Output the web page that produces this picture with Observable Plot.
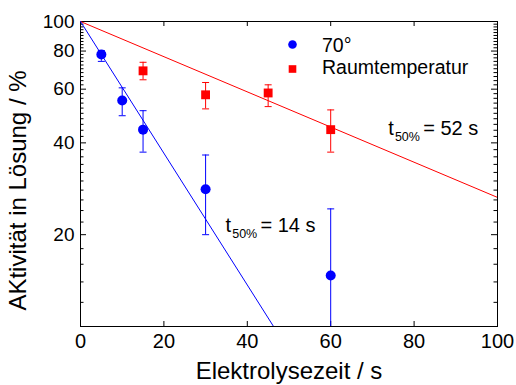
<!DOCTYPE html>
<html>
<head>
<meta charset="utf-8">
<script src="https://cdn.jsdelivr.net/npm/d3@7"></script>
<script src="https://cdn.jsdelivr.net/npm/@observablehq/plot@0.6"></script>
<style>
  html, body { margin: 0; padding: 0; background: #fff; }
</style>
</head>
<body>
<div id="chart"></div>
<script>
// 70° series
const x70  = [5, 10, 15, 30, 60];
const y70  = [77.9, 55.1, 44.2, 28.2, 14.7];
const hi70 = [80.3, 60.6, 51.0, 36.5, 24.3];
const lo70 = [74.0, 49.1, 37.3, 20.0, 5.0];

// Raumtemperatur series
const xRT  = [15, 30, 45, 60];
const yRT  = [68.9, 57.5, 58.3, 44.2];
const hiRT = [73.5, 63.1, 62.0, 51.3];
const loRT = [64.4, 51.7, 52.6, 37.3];

// fitted lines (end points)
const fit70X = [0, 46.3];
const fit70Y = [100, 10];
const fitRTX = [0, 100];
const fitRTY = [100, 26.5];

// ticks
const xTicks = [0, 20, 40, 60, 80, 100];
const yTicks = [20, 40, 60, 80, 100];
const yMinor = [12, 14, 16, 18, 22, 24, 26, 28, 30, 32, 34, 36, 38, 42, 44, 46, 48, 50, 52, 54, 56, 58,
                62, 64, 66, 68, 70, 72, 74, 76, 78, 82, 84, 86, 88, 90, 92, 94, 96, 98];

const seriesNames = ["70°", "Raumtemperatur"];
const colors = ["#0000ff", "#ff0000"];

const d70 = x70.map((x, i) => ({x, y: y70[i], lo: lo70[i], hi: hi70[i]}));
const dRT = xRT.map((x, i) => ({x, y: yRT[i], lo: loRT[i], hi: hiRT[i]}));
const fit70 = fit70X.map((x, i) => ({x, y: fit70Y[i]}));
const fitRT = fitRTX.map((x, i) => ({x, y: fitRTY[i]}));

const W = 516, H = 385, mL = 80, mR = 19, mT = 21, mB = 59;
const fw = W - mL - mR, fh = H - mT - mB;

const cap = { draw(ctx) { ctx.moveTo(-3.5, 0); ctx.lineTo(3.5, 0); } };
const font = "'Liberation Sans', Arial, Helvetica, sans-serif";

const chart = Plot.plot({
  width: W, height: H,
  marginLeft: mL, marginRight: mR, marginTop: mT, marginBottom: mB,
  style: { fontFamily: font, color: "black", background: "white" },
  x: { domain: [0, 100] },
  y: { type: "log", domain: [10, 100] },
  marks: [
    Plot.frame({ stroke: "black" }),
    // inward ticks
    Plot.tickY(yTicks, { insetRight: fw - 6, stroke: "black" }),
    Plot.tickY(yTicks, { insetLeft: fw - 6, stroke: "black" }),
    Plot.tickY(yMinor, { insetRight: fw - 3.5, stroke: "black" }),
    Plot.tickY(yMinor, { insetLeft: fw - 3.5, stroke: "black" }),
    Plot.tickX(xTicks, { insetTop: fh - 5, stroke: "black" }),
    Plot.tickX(xTicks, { insetBottom: fh - 5, stroke: "black" }),
    Plot.axisX({ ticks: xTicks, tickSize: 0, tickPadding: 7, fontSize: 20, label: null, tickFormat: d => String(d) }),
    Plot.axisY({ ticks: yTicks, tickSize: 0, tickPadding: 6, fontSize: 19, label: null, tickFormat: d => String(d) }),
    // fit lines
    Plot.line(fitRT, { x: "x", y: "y", stroke: colors[1], strokeWidth: 1, clip: true }),
    Plot.line(fit70, { x: "x", y: "y", stroke: colors[0], strokeWidth: 1, clip: true }),
    // error bars
    Plot.ruleX(d70, { x: "x", y1: "lo", y2: "hi", stroke: colors[0], strokeWidth: 1, clip: true }),
    Plot.dot(d70, { x: "x", y: "hi", symbol: cap, stroke: colors[0], strokeWidth: 1, clip: true }),
    Plot.dot(d70, { x: "x", y: "lo", symbol: cap, stroke: colors[0], strokeWidth: 1, clip: true }),
    Plot.ruleX(dRT, { x: "x", y1: "lo", y2: "hi", stroke: colors[1], strokeWidth: 1, clip: true }),
    Plot.dot(dRT, { x: "x", y: "hi", symbol: cap, stroke: colors[1], strokeWidth: 1, clip: true }),
    Plot.dot(dRT, { x: "x", y: "lo", symbol: cap, stroke: colors[1], strokeWidth: 1, clip: true }),
    // points
    Plot.dot(d70, { x: "x", y: "y", r: 5, symbol: "circle", fill: colors[0], stroke: "none" }),
    Plot.dot(dRT, { x: "x", y: "y", r: 5, symbol: "square", fill: colors[1], stroke: "none" }),
    // legend
    Plot.dot([0], { frameAnchor: "top-left", dx: 212, dy: 23, r: 4.3, symbol: "circle", fill: colors[0], stroke: "none" }),
    Plot.dot([0], { frameAnchor: "top-left", dx: 212, dy: 47.5, r: 4.3, symbol: "square", fill: colors[1], stroke: "none" }),
    Plot.text([seriesNames[0]], { text: d => d, frameAnchor: "top-left", dx: 241.5, dy: 24, textAnchor: "start", lineAnchor: "middle", fontSize: 19.5, fill: "black" }),
    Plot.text([seriesNames[1]], { text: d => d, frameAnchor: "top-left", dx: 241.5, dy: 46.5, textAnchor: "start", lineAnchor: "middle", fontSize: 19.5, fill: "black" }),
    // annotations 70°
    Plot.text(["t"], { text: d => d, frameAnchor: "top-left", dx: 145, dy: 203.6, textAnchor: "start", lineAnchor: "middle", fontSize: 20, fill: "black" }),
    Plot.text(["50%"], { text: d => d, frameAnchor: "top-left", dx: 151.7, dy: 212.8, textAnchor: "start", lineAnchor: "middle", fontSize: 12.5, fill: "black" }),
    Plot.text(["= 14 s"], { text: d => d, frameAnchor: "top-left", dx: 180, dy: 203.6, textAnchor: "start", lineAnchor: "middle", fontSize: 20, fill: "black" }),
    // annotations RT
    Plot.text(["t"], { text: d => d, frameAnchor: "top-left", dx: 307.7, dy: 106.6, textAnchor: "start", lineAnchor: "middle", fontSize: 20, fill: "black" }),
    Plot.text(["50%"], { text: d => d, frameAnchor: "top-left", dx: 314.4, dy: 115.8, textAnchor: "start", lineAnchor: "middle", fontSize: 12.5, fill: "black" }),
    Plot.text(["= 52 s"], { text: d => d, frameAnchor: "top-left", dx: 342.7, dy: 106.6, textAnchor: "start", lineAnchor: "middle", fontSize: 20, fill: "black" }),
    // axis titles
    Plot.text(["Elektrolysezeit / s"], { text: d => d, frameAnchor: "bottom", dy: 45, textAnchor: "middle", lineAnchor: "middle", fontSize: 24, fill: "black" }),
    Plot.text(["AKtivität in Lösung / %"], { text: d => d, frameAnchor: "left", dx: -62, dy: 16.5, rotate: -90, textAnchor: "middle", lineAnchor: "middle", fontSize: 24, fill: "black" })
  ]
});
document.getElementById("chart").appendChild(chart);
</script>
</body>
</html>
